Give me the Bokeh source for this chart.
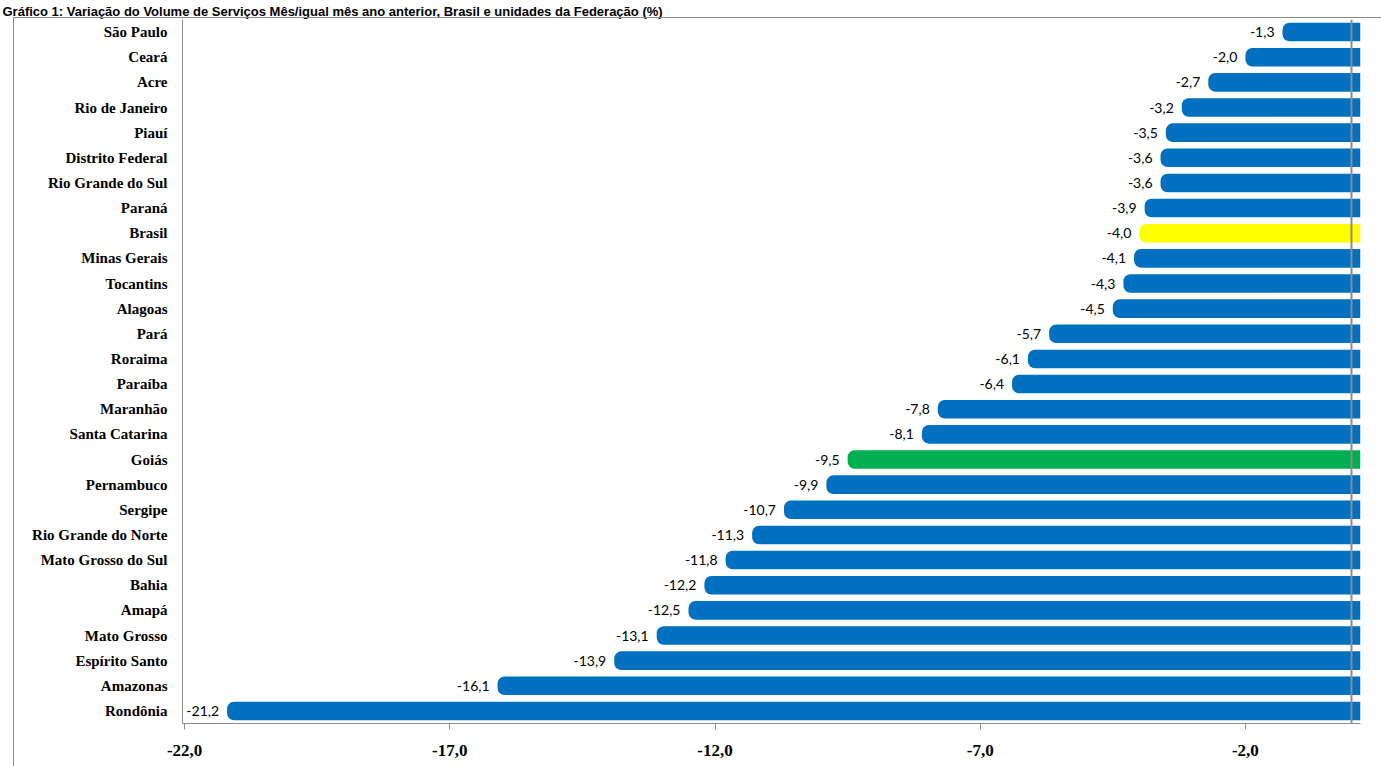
from bokeh.plotting import figure
from bokeh.models import FactorRange, Range1d, FixedTicker, ColumnDataSource, Span, InlineStyleSheet
from bokeh.core.properties import value
from bokeh.embed import file_html
from bokeh.resources import INLINE

title = "Gráfico 1: Variação do Volume de Serviços  Mês/igual mês ano anterior, Brasil e unidades da Federação (%)"

states = ["São Paulo", "Ceará", "Acre", "Rio de Janeiro", "Piauí", "Distrito Federal",
          "Rio Grande do Sul", "Paraná", "Brasil", "Minas Gerais", "Tocantins", "Alagoas",
          "Pará", "Roraima", "Paraíba", "Maranhão", "Santa Catarina", "Goiás", "Pernambuco",
          "Sergipe", "Rio Grande do Norte", "Mato Grosso do Sul", "Bahia", "Amapá",
          "Mato Grosso", "Espírito Santo", "Amazonas", "Rondônia"]
values = [-1.3, -2.0, -2.7, -3.2, -3.5, -3.6, -3.6, -3.9, -4.0, -4.1, -4.3, -4.5,
          -5.7, -6.1, -6.4, -7.8, -8.1, -9.5, -9.9, -10.7, -11.3, -11.8, -12.2, -12.5,
          -13.1, -13.9, -16.1, -21.2]
tick_values = [-22, -17, -12, -7, -2]
tick_labels = ["-22,0", "-17,0", "-12,0", "-7,0", "-2,0"]

BLUE = "#0070C0"
highlight = {"Brasil": "#FFFF00", "Goiás": "#00B050"}
colors = [highlight.get(s, BLUE) for s in states]
labels = [f"{v:.1f}".replace(".", ",") for v in values]

src = ColumnDataSource(dict(state=states, val=values, color=colors, label=labels,
                            right=[0.17] * len(states)))

W, H = 1381, 766
FL, FR, FT, FB = 182, 21, 19, 43  # frame margins

border_css = InlineStyleSheet(css="""
:host { position: relative; }
:host::after {
  content: ""; position: absolute; left: 13px; top: 17px; right: -4px; bottom: -4px;
  border: 1px solid #8c8c8c; pointer-events: none; box-sizing: border-box;
}
""")

p = figure(width=W, height=H, output_backend="svg", toolbar_location=None,
           y_range=FactorRange(factors=list(reversed(states))),
           x_range=Range1d(-22.04, 0.17),
           min_border_left=FL, min_border_right=FR, min_border_top=FT, min_border_bottom=FB,
           stylesheets=[border_css])
p.outline_line_color = None
p.xgrid.visible = False
p.ygrid.visible = False
p.background_fill_color = "white"

p.title.text = title
p.title.text_font = "Liberation Sans"
p.title.text_font_style = "bold"
p.title.text_font_size = "13px"
p.title.text_color = "black"
p.title.align = "left"
p.title.offset = -(FL - 2)
p.title.standoff = 2
p.title.vertical_align = "bottom"

p.hbar(y="state", left="val", right="right", height=0.74, color="color", source=src,
       border_radius=(7, 0, 0, 7), line_color=None)

p.text(x="val", y="state", text="label", source=src, x_offset=-8,
       text_align="right", text_baseline="middle", text_font=value("Lato"),
       text_font_size="14px", text_color="black")

p.add_layout(Span(location=0, dimension="height", line_color="#8c8c8c", line_width=2))

ax = p.xaxis[0]
ax.ticker = FixedTicker(ticks=tick_values)
ax.major_label_overrides = {t: l for t, l in zip(tick_values, tick_labels)}
ax.axis_line_color = "#8c8c8c"
ax.major_tick_line_color = "#8c8c8c"
ax.major_tick_in = 0
ax.major_tick_out = 6
ax.minor_tick_line_color = None
ax.major_label_standoff = 15
ax.major_label_text_font = "Liberation Serif"
ax.major_label_text_font_style = "bold"
ax.major_label_text_font_size = "17px"
ax.major_label_text_color = "black"

ay = p.yaxis[0]
ay.axis_line_color = "#8c8c8c"
ay.major_tick_line_color = None
ay.minor_tick_line_color = None
ay.major_tick_in = 0
ay.major_tick_out = 0
ay.major_label_standoff = 15
ay.major_label_text_font = "Liberation Serif"
ay.major_label_text_font_style = "bold"
ay.major_label_text_font_size = "15px"
ay.major_label_text_color = "black"

open("out.html", "w").write(file_html(p, INLINE))
